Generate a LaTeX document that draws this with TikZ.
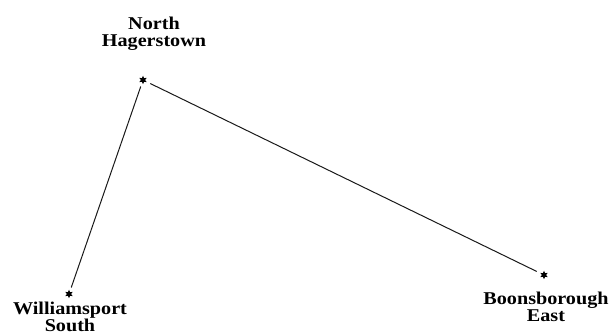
\documentclass[tikz,border=0pt]{standalone}
\usepackage{fontspec}
\newfontfamily\lblfont{Liberation Serif Bold}[FakeStretch=1.12]
\usetikzlibrary{shapes.geometric}
\tikzset{
  station/.style={star, star points=6, star point ratio=2.0, fill=black, draw=none, minimum size=8.5pt, inner sep=0pt},
  place/.style={align=center, anchor=north, inner sep=0pt, font=\lblfont\fontsize{18}{17}\selectfont},
  route/.style={line width=1pt, draw=black!90, shorten <=4pt, shorten >=4pt}
}
\begin{document}
\begin{tikzpicture}[x=1pt,y=-1pt]
\useasboundingbox (0,0) rectangle (610,336);
\node[station] (nh) at (143,80) {};
\node[station] (ws) at (69,294) {};
\node[station] (be) at (544,275) {};
\node[place] (nhl) at (154,17) {North\\Hagerstown};
\node[place] (wsl) at (70,302) {Williamsport\\South};
\node[place] (bel) at (546,292) {Boonsborough\\East};
\draw[route] (nh) -- (ws);
\draw[route] (nh) -- (be);
\end{tikzpicture}
\end{document}
